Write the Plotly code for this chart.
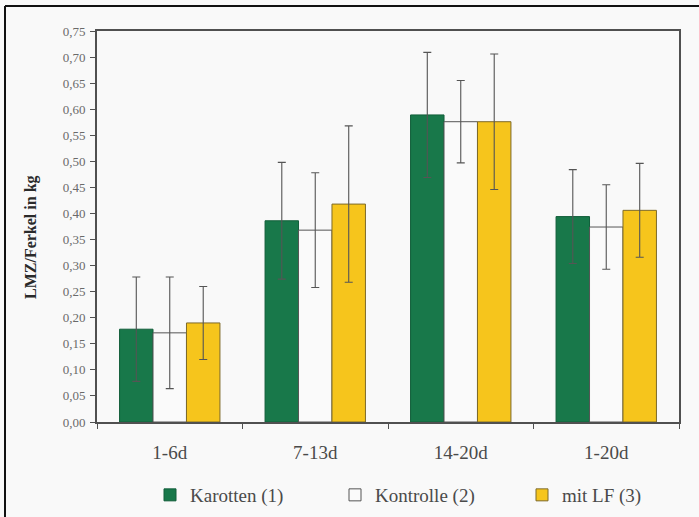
import plotly.graph_objects as go

# Mean daily weight gain per piglet (kg) with standard deviations
categories = ["1-6d", "7-13d", "14-20d", "1-20d"]

karotten = [0.178, 0.386, 0.589, 0.394]
karotten_sd = [0.100, 0.112, 0.120, 0.090]

kontrolle = [0.171, 0.368, 0.576, 0.374]
kontrolle_sd = [0.107, 0.110, 0.079, 0.081]

mit_lf = [0.190, 0.418, 0.576, 0.406]
mit_lf_sd = [0.070, 0.150, 0.130, 0.090]

series_names = ["Karotten (1)", "Kontrolle (2)", "mit LF (3)"]
y_ticks = [i * 0.05 for i in range(16)]

serif = "Liberation Serif"
err_style = dict(type="data", visible=True, color="#555555", thickness=1.1, width=4)

fig = go.Figure()
fig.add_trace(go.Bar(
    name=series_names[0], x=categories, y=karotten, legend="legend",
    marker=dict(color="#18784a", line=dict(color="#125e3a", width=1)),
    error_y=dict(array=karotten_sd, **err_style),
))
fig.add_trace(go.Bar(
    name=series_names[1], x=categories, y=kontrolle, legend="legend2",
    marker=dict(color="#fafafa", line=dict(color="#555555", width=1)),
    error_y=dict(array=kontrolle_sd, **err_style),
))
fig.add_trace(go.Bar(
    name=series_names[2], x=categories, y=mit_lf, legend="legend3",
    marker=dict(color="#f6c51c", line=dict(color="#7d6a2a", width=1)),
    error_y=dict(array=mit_lf_sd, **err_style),
))

W, H = 699, 517
L, R, T, B = 97, 20, 31, 95
pw, ph = W - L - R, H - T - B

def px_x(x):
    return (x - L) / pw

def px_y(y):
    return (H - B - y) / ph

def legend_at(x_px):
    return dict(
        orientation="h", x=px_x(x_px), y=px_y(495), xanchor="left", yanchor="middle",
        font=dict(family=serif, size=19, color="#4a4a4a"),
        bgcolor="rgba(0,0,0,0)",
    )

fig.update_layout(
    width=W, height=H,
    margin=dict(l=L, r=R, t=T, b=B, autoexpand=False),
    paper_bgcolor="#f9f9f9",
    plot_bgcolor="#f9f9f9",
    separators=", ",
    barmode="group",
    bargap=0.31,
    bargroupgap=0,
    font=dict(family=serif, color="#4a4a4a"),
    showlegend=True,
    legend=legend_at(150),
    legend2=legend_at(335),
    legend3=legend_at(522),
    xaxis=dict(
        showline=True, linecolor="#505050", linewidth=2, mirror=True,
        ticks="outside", ticklen=5, tickcolor="#505050", tickson="boundaries",
        ticklabelstandoff=12,
        tickfont=dict(family=serif, size=19, color="#4a4a4a"),
        showgrid=False,
    ),
    yaxis=dict(
        range=[0, 0.75], tickvals=y_ticks, tickformat=".2f",
        showline=True, linecolor="#505050", linewidth=2, mirror=True,
        ticks="outside", ticklen=5, tickcolor="#505050",
        ticklabelstandoff=2,
        tickfont=dict(family=serif, size=13, color="#6a6a6a"),
        showgrid=False, zeroline=False,
    ),
    annotations=[dict(
        text="<b>LMZ/Ferkel in kg</b>", textangle=-90,
        xref="paper", yref="paper", x=px_x(31), y=px_y(237),
        xanchor="center", yanchor="middle", showarrow=False,
        font=dict(family=serif, size=16, color="#2a2a2a"),
    )],
    shapes=[
        dict(type="line", xref="paper", yref="paper",
             x0=px_x(5), x1=px_x(5), y0=px_y(517), y1=px_y(6),
             line=dict(color="#111111", width=2)),
        dict(type="line", xref="paper", yref="paper",
             x0=px_x(5), x1=px_x(699), y0=px_y(6), y1=px_y(6),
             line=dict(color="#111111", width=2)),
    ],
)

fig.write_html("out.html")
